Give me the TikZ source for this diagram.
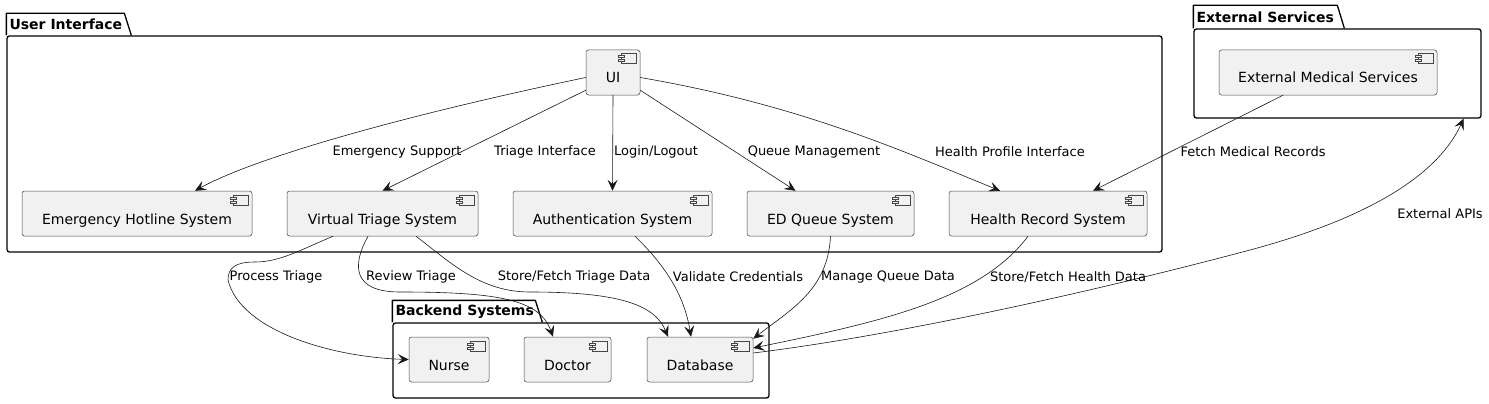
\documentclass[tikz,border=0pt]{standalone}
\usepackage{fontspec}
\setmainfont{DejaVu Sans}
\usetikzlibrary{arrows.meta}

\definecolor{compfill}{HTML}{F1F1F1}
\definecolor{compline}{HTML}{181818}

\tikzset{
	comp/.style={draw=compline!80, line width=0.5pt, fill=compfill, rounded corners=2.5pt,
		inner sep=0pt, minimum height=45pt, text height=21pt, text depth=0pt,
		font=\fontsize{14}{16}\selectfont},
	pkg/.style={draw=black, line width=1.3pt, rounded corners=2.5pt, inner sep=0pt},
	pkgtab/.style={draw=black, line width=1.3pt, line join=round},
	pkgtitle/.style={anchor=west, inner sep=0pt, font=\fontsize{14}{16}\selectfont\bfseries},
	iconline/.style={draw=compline!80, line width=0.5pt, fill=compfill},
	conn/.style={draw=compline, line width=0.6pt, -{Stealth[length=11pt,width=10pt,inset=4.5pt]}},
	lbl/.style={inner sep=0pt, font=\fontsize{13}{15}\selectfont}
}

\begin{document}
\begin{tikzpicture}[x=1pt, y=-1pt]
	\useasboundingbox (0,0) rectangle (1489,404);

	% packages
	\node[pkg, minimum width=1155pt, minimum height=216pt] (uipkg) at (584.5,144) {};
	\draw[pkgtab] (uipkg.north west) -- ++(0,-22) -- ++(118,0) -- ++(7,22);
	\node[pkgtitle] (uititle) at ([xshift=3pt,yshift=11pt]uipkg.north west) {User Interface};

	\node[pkg, minimum width=287pt, minimum height=89pt] (extpkg) at (1337.5,73.5) {};
	\draw[pkgtab] (extpkg.north west) -- ++(0,-23) -- ++(144,0) -- ++(7,23);
	\node[pkgtitle] (exttitle) at ([xshift=3pt,yshift=11.5pt]extpkg.north west) {External Services};

	\node[pkg, minimum width=376pt, minimum height=75pt] (backpkg) at (581,360.5) {};
	\draw[pkgtab] (backpkg.north west) -- ++(0,-22) -- ++(143,0) -- ++(7,22);
	\node[pkgtitle] (backtitle) at ([xshift=3pt,yshift=11pt]backpkg.north west) {Backend Systems};

	% components
	\node[comp, minimum width=54pt] (ui) at (613,72.5) {UI};
	\node[comp, minimum width=230pt] (hotline) at (137,213.5) {Emergency Hotline System};
	\node[comp, minimum width=191pt] (triage) at (382.5,213.5) {Virtual Triage System};
	\node[comp, minimum width=199pt] (auth) at (612.5,213.5) {Authentication System};
	\node[comp, minimum width=167pt] (queue) at (830.5,213.5) {ED Queue System};
	\node[comp, minimum width=198pt] (health) at (1048,213.5) {Health Record System};
	\node[comp, minimum width=218pt] (extmed) at (1328,72.5) {External Medical Services};
	\node[comp, minimum width=80pt] (nurse) at (449,359.5) {Nurse};
	\node[comp, minimum width=87pt] (doctor) at (567.5,359.5) {Doctor};
	\node[comp, minimum width=106pt] (db) at (700,359.5) {Database};

	\foreach \n in {ui,hotline,triage,auth,queue,health,extmed,nurse,doctor,db}
	{
		\draw[iconline, rounded corners=0pt] ([xshift=-19pt,yshift=-4pt]\n.north east) rectangle ++(15,10);
		\draw[iconline, rounded corners=0pt] ([xshift=-22pt,yshift=-6pt]\n.north east) rectangle ++(6,2);
		\draw[iconline, rounded corners=0pt] ([xshift=-22pt,yshift=-10pt]\n.north east) rectangle ++(6,2);
	}

	% connectors
	\draw[conn] ([yshift=-5pt]ui.west) .. controls (420,112) and (260,155) .. ([xshift=58pt]hotline.north);
	\draw[conn] ([yshift=5pt]ui.south west) -- (triage.north);
	\draw[conn] (ui.south) -- (auth.north);
	\draw[conn] ([yshift=5pt]ui.south east) -- ([xshift=-35pt]queue.north);
	\draw[conn] ([yshift=-5pt]ui.east) .. controls (800,105) and (900,150) .. ([xshift=-48pt]health.north);
	\draw[conn] ([xshift=-45pt]extmed.south) -- ([xshift=45pt]health.north);

	\draw[conn] ([xshift=-49.5pt]triage.south) .. controls (300,250) and (280,262) .. (255,262)
		.. controls (235,262) and (228,268) .. (228,280)
		.. controls (240,330) and (330,357) .. (nurse.west);
	\draw[conn] ([xshift=-14.5pt]triage.south) .. controls (352,265) and (352,292) .. (400,292)
		.. controls (500,292) and (540,300) .. ([xshift=-14.5pt]doctor.north);
	\draw[conn] ([xshift=33.5pt]triage.south) .. controls (450,262) and (480,292) .. (530,292)
		.. controls (620,292) and (655,305) .. ([xshift=-32pt]db.north);
	\draw[conn] ([xshift=22.5pt]auth.south) .. controls (670,270) and (685,300) .. ([xshift=-9pt]db.north);
	\draw[conn] (queue.south) .. controls (828,290) and (790,310) .. ([yshift=-2pt]db.north east);
	\draw[conn] ([xshift=-20pt]health.south) .. controls (980,300) and (880,322) .. ([yshift=11.5pt]db.east);
	\draw[conn] ([yshift=6.5pt]db.east) .. controls (900,335) and (1100,290) .. (1250,250)
		.. controls (1380,215) and (1440,170) .. ([xshift=-18pt]extpkg.south east);

	% labels
	\node[lbl] (lemerg) at (397,152) {Emergency Support};
	\node[lbl] (ltriage) at (545,152) {Triage Interface};
	\node[lbl] (llogin) at (656,152) {Login/Logout};
	\node[lbl] (lqueue) at (814,152) {Queue Management};
	\node[lbl] (lprofile) at (1010,152) {Health Profile Interface};
	\node[lbl] (lfetch) at (1253,152) {Fetch Medical Records};
	\node[lbl] (lapi) at (1440,214) {External APIs};
	\node[lbl] (lprocess) at (276,277) {Process Triage};
	\node[lbl] (lreview) at (411,277) {Review Triage};
	\node[lbl] (lstoretri) at (574,277) {Store/Fetch Triage Data};
	\node[lbl] (lvalid) at (738,277) {Validate Credentials};
	\node[lbl] (lmanage) at (888,277) {Manage Queue Data};
	\node[lbl] (lstorehe) at (1068,277) {Store/Fetch Health Data};
\end{tikzpicture}
\end{document}
